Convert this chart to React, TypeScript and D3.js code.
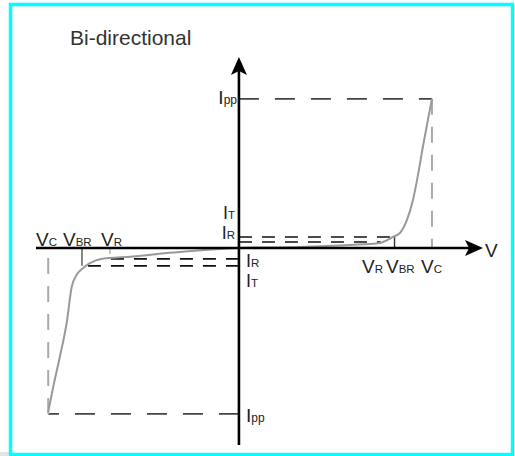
import React from 'react';
import * as d3 from 'd3';

// I-V curve of a bi-directional TVS diode (arbitrary units)
const curveV = [-9.83, -9.57, -9.23, -8.88, -8.62, -8.37, -8.04, -7.68, -7.16, -5.46, -3.4, 0, 3.14, 5.72, 7.27, 7.94, 8.3, 8.66, 8.97, 9.23, 9.48, 9.74, 9.95];
const curveI = [-9.86, -8.36, -6.55, -4.52, -2.35, -1.63, -1.22, -0.92, -0.68, -0.52, -0.28, 0, 0.06, 0.18, 0.3, 0.66, 0.9, 1.69, 2.89, 4.4, 6.08, 7.71, 8.98];

// [negative side, positive side]
const vcLevels = [-9.83, 9.95];
const ippLevels = [-10, 8.98];
const vbrLevels = [-8.09, 8.02];
const vrLevels = [-6.65, 7.3];
const itLevels = [-1.08, 0.66];
const irLevels = [-0.66, 0.36];

const xExtent = [-10.46, 12.58];
const yExtent = [-11.87, 11.5];

const W = 515, H = 456;
const font = 'Liberation Sans, Arial, sans-serif';
const ink = '#222';

function Sym({ x, y, main, sub, anchor = 'start', size = 18, subSize = 11.5 }: any) {
    return (
        <text x={x} y={y} textAnchor={anchor} fontFamily={font} fill={ink} fontSize={size}>
            {main}<tspan fontSize={subSize}>{sub}</tspan>
        </text>
    );
}

export default function App() {
    const x = d3.scaleLinear().domain(xExtent).range([36, 483]);
    const y = d3.scaleLinear().domain(yExtent).range([445, 57]);
    const x0 = x(0), y0 = y(0);

    const pts: [number, number][] = curveV.map((v, i) => [v, curveI[i]]);
    const line = d3.line<[number, number]>()
        .x(d => x(d[0]))
        .y(d => y(d[1]))
        .curve(d3.curveMonotoneX);

    const xr = x(xExtent[1]), yt = y(yExtent[1]);
    const arrowRight = `M${xr},${y0} L${xr - 18},${y0 - 8} L${xr - 14},${y0} L${xr - 18},${y0 + 8} Z`;
    const arrowUp = `M${x0},${yt} L${x0 - 8},${yt + 18} L${x0},${yt + 14} L${x0 + 8},${yt + 18} Z`;

    const dashI = (lvl: number, v: number) => (
        <line x1={x0} x2={x(v)} y1={y(lvl)} y2={y(lvl)} stroke="#111" strokeWidth={1.6} strokeDasharray="13,10" />
    );

    return (
        <div style={{ position: 'fixed', left: 0, top: 0 }}>
            <svg width={W} height={H} style={{ display: 'block', background: '#fff' }}>
                <rect x={0} y={452} width={9} height={4} fill="#e4e4e4" />
                <rect x={10.5} y={4.5} width={502} height={450} fill="#fff" stroke="#0ff" strokeWidth={3.5} />

                <text x={70} y={45} fontFamily={font} fontSize={21} fill="#333">Bi-directional</text>

                {/* Ipp reference lines */}
                {ippLevels.map((lvl, i) => (
                    <line key={'ipp' + i} x1={x0} x2={x(vcLevels[i])} y1={y(lvl)} y2={y(lvl)}
                        stroke="#444" strokeWidth={1.8} strokeDasharray="20,16" />
                ))}
                {/* Vc reference lines */}
                {vcLevels.map((v, i) => (
                    <line key={'vc' + i} x1={x(v)} x2={x(v)} y1={y(ippLevels[i])} y2={y0 + (i ? 0 : 6)}
                        stroke="#aaa" strokeWidth={2} strokeDasharray="16,12" />
                ))}

                {/* IT / IR levels */}
                {dashI(itLevels[1], vbrLevels[1])}
                {dashI(irLevels[1], vrLevels[1])}
                {dashI(irLevels[0], vrLevels[0])}
                {dashI(itLevels[0], vbrLevels[0])}

                {/* VBR / VR ticks */}
                <line x1={x(vbrLevels[1])} x2={x(vbrLevels[1])} y1={y(itLevels[1])} y2={y0} stroke="#333" strokeWidth={1.4} />
                <line x1={x(vbrLevels[0])} x2={x(vbrLevels[0])} y1={y0} y2={y(itLevels[0])} stroke="#555" strokeWidth={1.4} />
                <line x1={x(vrLevels[0])} x2={x(vrLevels[0])} y1={y0} y2={y0 + 6} stroke="#aaa" strokeWidth={1.4} />

                <path d={line(pts) || ''} fill="none" stroke="#999" strokeWidth={2} />

                {/* axes */}
                <line x1={x(xExtent[0])} x2={xr - 10} y1={y0} y2={y0} stroke="#000" strokeWidth={2.6} />
                <line x1={x0} x2={x0} y1={y(yExtent[0])} y2={yt + 10} stroke="#000" strokeWidth={2.6} />
                <path d={arrowRight} fill="#000" />
                <path d={arrowUp} fill="#000" />
                <text x={485} y={257} fontFamily={font} fontSize={19} fill={ink}>V</text>

                <Sym x={237} y={104} main="I" sub="pp" anchor="end" size={19} subSize={12} />
                <Sym x={246} y={422} main="I" sub="pp" size={19} subSize={12} />
                <Sym x={235} y={219} main="I" sub="T" anchor="end" />
                <Sym x={235} y={239} main="I" sub="R" anchor="end" />
                <Sym x={246} y={267} main="I" sub="R" />
                <Sym x={246} y={287} main="I" sub="T" />

                <Sym x={36} y={246} main="V" sub="C" size={19} />
                <Sym x={63} y={246} main="V" sub="BR" size={19} />
                <Sym x={101} y={246} main="V" sub="R" size={19} />

                <Sym x={362} y={273} main="V" sub="R" size={19} />
                <Sym x={386} y={273} main="V" sub="BR" size={19} />
                <Sym x={421} y={273} main="V" sub="C" size={19} />
            </svg>
        </div>
    );
}
